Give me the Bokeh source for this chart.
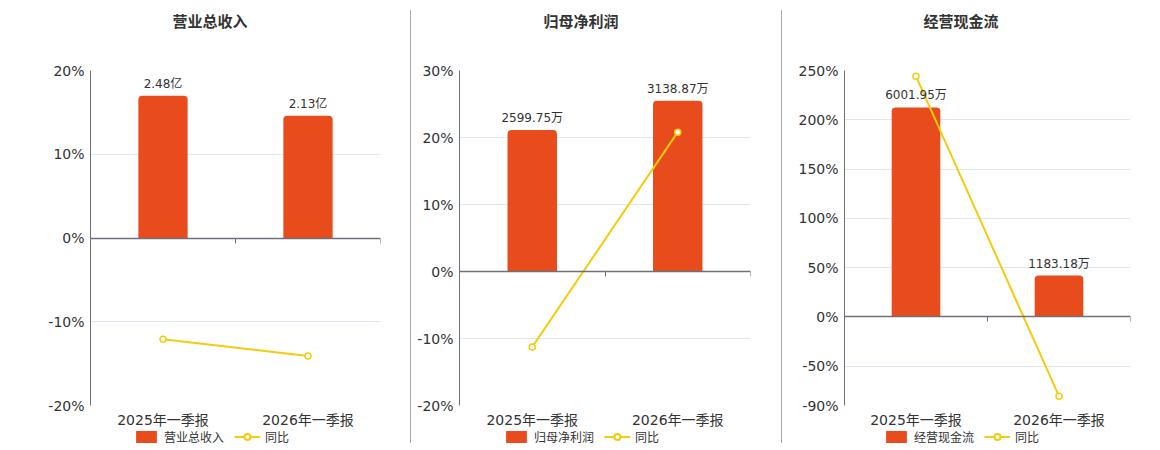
from bokeh.plotting import figure
from bokeh.models import (Range1d, LinearAxis, FixedTicker, PrintfTickFormatter,
                          ColumnDataSource, LabelSet, Legend, LegendItem, Div)
from bokeh.core.properties import value
from bokeh.layouts import row, column
from bokeh.embed import file_html
from bokeh.resources import INLINE

# ---------------- data ----------------
periods = ["2025年一季报", "2026年一季报"]

titles = ["营业总收入", "归母净利润", "经营现金流"]

revenue = [2.48, 2.13]                 # 亿
revenue_labels = ["2.48亿", "2.13亿"]
revenue_yoy = [-12.08, -14.08]         # %

profit = [2599.75, 3138.87]            # 万
profit_labels = ["2599.75万", "3138.87万"]
profit_yoy = [-11.25, 20.8]

cashflow = [6001.95, 1183.18]          # 万
cashflow_labels = ["6001.95万", "1183.18万"]
cashflow_yoy = [244.1, -80.5]

revenue_ticks = [-20, -10, 0, 10, 20]
profit_ticks = [-20, -10, 0, 10, 20, 30]
cashflow_ticks = [-90, -50, 0, 50, 100, 150, 200, 250]

yoy_label = "同比"

# ---------------- style ----------------
FONT = "DejaVu Sans, Noto Sans CJK SC"
BAR = "#E84C1C"
LINE = "#F4CC0C"
AXIS = "#6E7079"
GRID = "#E0E6F1"
TEXT = "#333333"
SEP = "#AAAAAA"


def make_panel(title, bars, labels, yoy, ticks, width, left, right, title_center, legend_x):
    n = len(periods)
    xs = [i + 0.5 for i in range(n)]
    ymin, ymax = min(ticks), max(ticks)
    bar_top = max(bars) / 0.85
    bar_bottom = bar_top * ymin / ymax

    p = figure(width=width, height=390, output_backend="svg", toolbar_location=None,
               x_range=Range1d(0, n), y_range=Range1d(ymin, ymax),
               min_border_left=left, min_border_right=right,
               min_border_top=30, min_border_bottom=25)
    p.outline_line_color = None
    p.extra_y_ranges = {"bar": Range1d(bar_bottom, bar_top)}

    src = ColumnDataSource(dict(x=xs, bar=bars, label=labels, yoy=yoy))

    p.vbar(x="x", top="bar", bottom=0, width=0.34, source=src, y_range_name="bar",
           fill_color=BAR, line_color=None, border_radius=(4, 4, 0, 0))
    lbl = LabelSet(x="x", y="bar", text="label", source=src, y_range_name="bar",
                   y_offset=5, text_align="center", text_baseline="bottom",
                   text_font=value(FONT), text_font_size="12px", text_color=TEXT)
    p.add_layout(lbl)
    p.line("x", "yoy", source=src, line_color=LINE, line_width=2)
    p.scatter("x", "yoy", source=src, size=6, marker="circle",
              fill_color="white", line_color=LINE, line_width=1.5)

    # y axis
    yt = FixedTicker(ticks=ticks)
    p.yaxis.ticker = yt
    p.ygrid.ticker = yt
    p.yaxis.formatter = PrintfTickFormatter(format="%d%%")
    p.yaxis.axis_line_color = AXIS
    p.yaxis.major_tick_line_color = None
    p.yaxis.major_tick_out = 0
    p.yaxis.major_tick_in = 0
    p.yaxis.minor_tick_line_color = None
    p.yaxis.minor_tick_out = 0
    p.yaxis.major_label_text_font = FONT
    p.yaxis.major_label_text_font_size = "14px"
    p.yaxis.major_label_text_color = TEXT
    p.yaxis.major_label_standoff = 6
    p.ygrid.grid_line_color = GRID
    p.xgrid.visible = False

    # category labels axis (bottom)
    p.xaxis.ticker = FixedTicker(ticks=xs)
    p.xaxis.major_label_overrides = {x: s for x, s in zip(xs, periods)}
    p.xaxis.axis_line_color = None
    p.xaxis.major_tick_line_color = None
    p.xaxis.major_tick_out = 0
    p.xaxis.major_tick_in = 0
    p.xaxis.minor_tick_line_color = None
    p.xaxis.minor_tick_out = 0
    p.xaxis.major_label_text_font = FONT
    p.xaxis.major_label_text_font_size = "14px"
    p.xaxis.major_label_text_color = TEXT
    p.xaxis.major_label_standoff = 6

    # baseline axis at zero with boundary ticks (no labels)
    bticks = list(range(n + 1))
    base = LinearAxis(fixed_location=0, ticker=FixedTicker(ticks=bticks),
                      major_label_overrides={t: "" for t in bticks},
                      axis_line_color=AXIS, axis_line_width=1.5,
                      major_tick_line_color=AXIS, major_tick_in=5, major_tick_out=0,
                      minor_tick_line_color=None, major_label_standoff=0)
    p.add_layout(base, "above")

    # legend strip (separate small figure under the chart); its sample glyphs sit
    # outside the strip's visible range so only the legend shows
    lg = figure(width=width, height=18, output_backend="svg", toolbar_location=None,
                x_range=Range1d(0, 1), y_range=Range1d(0, 1),
                x_axis_type=None, y_axis_type=None,
                min_border_left=left, min_border_right=right,
                min_border_top=0, min_border_bottom=0)
    lg.outline_line_color = None
    lg.grid.visible = False
    vb = lg.vbar(x=[5], top=[5], bottom=[4], width=0.3, fill_color=BAR, line_color=None,
                 border_radius=4)
    ln = lg.line(x=[5, 6], y=[5, 5], line_color=LINE, line_width=2)
    sc = lg.scatter(x=[5], y=[5], size=10, marker="circle", fill_color="white",
                    line_color=LINE, line_width=2)
    legend = Legend(items=[LegendItem(label=title, renderers=[vb]),
                           LegendItem(label=yoy_label, renderers=[ln, sc])],
                    orientation="horizontal", location=(legend_x, 3),
                    glyph_width=26, glyph_height=15, label_standoff=5, spacing=10,
                    padding=0, margin=0, border_line_color=None, background_fill_alpha=0,
                    label_text_font=FONT, label_text_font_size="12px", label_text_color=TEXT)
    lg.add_layout(legend, "center")

    tdiv = Div(text=(f"<div style='width:{2 * title_center}px;text-align:center;"
                     f"font-family:{FONT};font-weight:bold;font-size:15px;"
                     f"padding-top:12px;line-height:20px;color:{TEXT}'>{title}</div>"),
               width=width, height=40, margin=0)
    return column(tdiv, p, lg)


def separator():
    return Div(text=f"<div style='width:1px;height:433px;margin-top:10px;background:{SEP}'></div>",
               width=1, height=448, margin=0)


p1 = make_panel(titles[0], revenue, revenue_labels, revenue_yoy, revenue_ticks,
                410, 90, 30, 210, 43)
p2 = make_panel(titles[1], profit, profit_labels, profit_yoy, profit_ticks,
                370, 48, 31, 170, 44)
p3 = make_panel(titles[2], cashflow, cashflow_labels, cashflow_yoy, cashflow_ticks,
                370, 62, 22, 179, 39)

layout = row(p1, separator(), p2, separator(), p3)

open("out.html", "w").write(file_html(layout, INLINE))
